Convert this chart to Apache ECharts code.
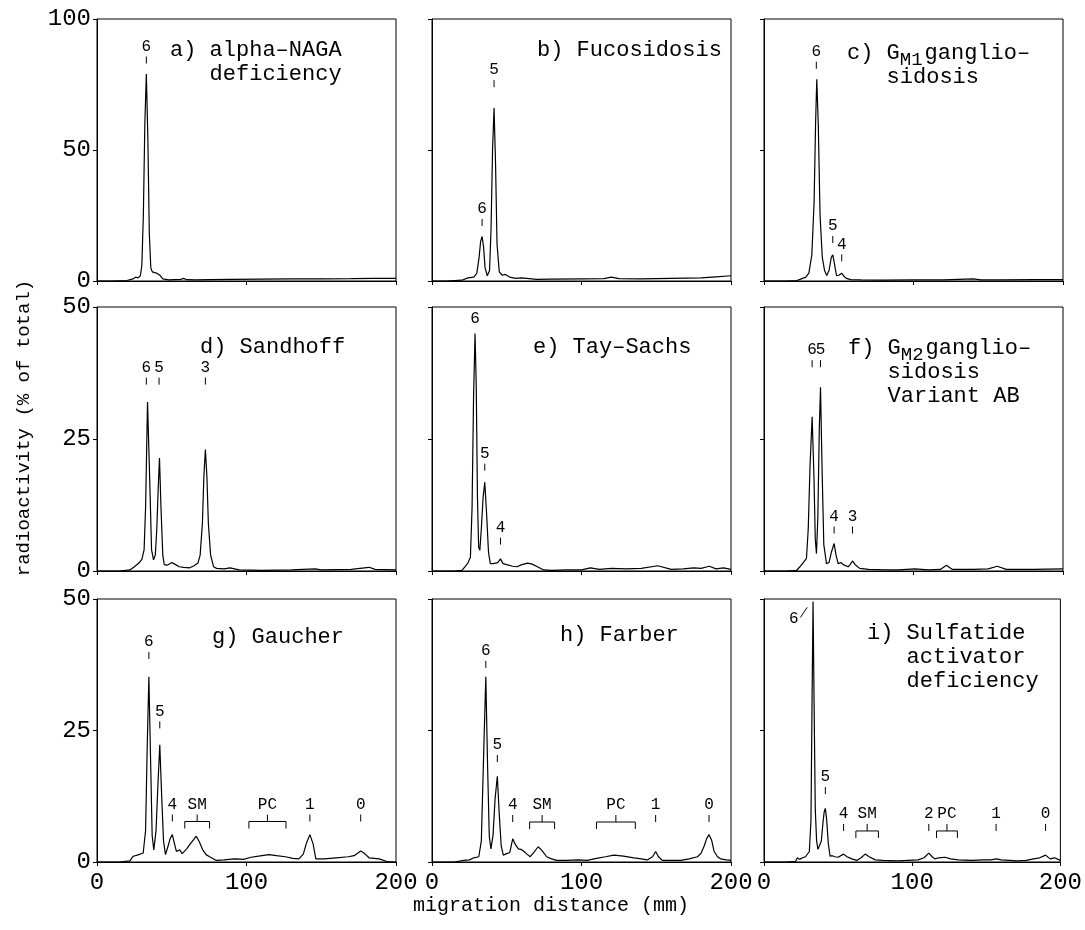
<!DOCTYPE html>
<html>
<head>
<meta charset="utf-8">
<script src="https://cdn.jsdelivr.net/npm/echarts@6/dist/echarts.min.js"></script>
<style>
html,body{margin:0;padding:0;background:#fff;}
#c{width:1085px;height:930px;}
</style>
</head>
<body>
<div id="c"></div>
<script>
// ---------- DATA ----------
const xTicks = [0, 100, 200];
const yTop = [100, 50, 50];           // y-axis max per row
const yInterval = [50, 25, 25];

// a) alpha-NAGA deficiency
const aX = [0,10,20,24,26,27.5,29,30,31,32,33,34,35,36,37,38.5,40,42,44,48,52,56,58,60,66,75,90,110,130,150,170,185,200];
const aY = [0,0,0.2,0.8,1.5,1.2,2,6,25,60,79,55,18,5,3.5,3.2,3,2.2,0.8,0.4,0.5,0.6,1.0,0.5,0.4,0.5,0.6,0.7,0.8,0.8,0.9,1.0,1.0];
// b) Fucosidosis
const bX = [0,10,20,24,28,30,31.5,32.5,33.5,34.5,35.5,37,38.5,39.5,40.5,41.5,42.5,43.5,45,47,49,52,56,60,70,80,100,115,120,125,140,160,180,190,200];
const bY = [0,0,0.3,1.2,1.5,3,9,15,17,13,5,2,4,20,50,66,45,14,3.5,2.2,2.5,1.5,1.0,1.2,0.6,0.7,0.8,0.9,1.5,0.9,0.8,1.0,1.2,1.6,2.0];
// c) GM1 gangliosidosis
const cX = [0,15,22,25,28,30,32,33.5,34.5,35.3,36.3,37.5,39,40.5,42,43.5,45,46,47,48.5,50,52,53.5,55,58,65,80,100,120,140,145,160,180,200];
const cY = [0,0,0.2,0.8,1.5,3,10,30,60,77,60,25,9,4,2.1,4,9,10,7,2,2.2,3,1.8,1.0,0.5,0.4,0.3,0.4,0.4,0.8,0.4,0.4,0.5,0.5];
// d) Sandhoff
const dX = [0,15,22,25,28,30,31.5,32.5,33.8,35,36.5,37.8,39,40,41,41.8,42.8,44,45,47,50,52,55,58,62,65,67.5,69,70.5,71.5,72.5,73.5,74.5,76,78,80,85,89,95,110,130,146,150,170,182,186,200];
const dY = [0,0,0.2,0.8,1.5,2.2,4,12,32,20,4,2.1,3,8,16,21.4,12,3,1.2,1.1,1.6,1.3,0.8,0.7,0.6,1.0,1.5,3,9,18,23,18,9,3,0.8,0.5,0.4,0.6,0.2,0.1,0.2,0.4,0.2,0.3,0.7,0.3,0.2];
// e) Tay-Sachs
const eX = [0,15,20,22,24,25.7,26.8,27.8,28.8,29.6,30.4,31.2,32,33,34.2,35.3,36.5,37.8,39,41,42.5,44,45.8,47.5,50,54,57,60,64,67,70.5,74.7,80,90,100,106,112,120,130,140,151,160,168,175,180,185.5,190,195,200];
const eY = [0,0,0.1,0.8,1.5,2.6,12,33,45,35,14,4.5,3.9,8,14,16.8,11,3.5,1.4,1.4,1.5,1.6,2.3,1.4,1.2,0.9,0.8,1.2,1.5,1.3,0.8,0.2,0.1,0.2,0.2,0.6,0.3,0.5,0.4,0.5,1.0,0.3,0.4,0.6,0.5,0.9,0.4,0.6,0.3];
// f) GM2 gangliosidosis variant AB
const fX = [0,15,21.7,24,26,28.4,29.6,30.8,32.2,33.4,34.3,35.1,36,37,37.8,38.8,40,41.8,43.5,45,46.9,48.2,49.6,51.5,53,56.3,57.8,59.2,61,64,70,80,90,101,110,118,122,126,140,150,156,162,180,200];
const fY = [0,0,0.1,0.8,1.5,2.4,8,20,29.2,18,6,3.3,10,27,34.8,20,5,1.4,1.6,3.5,5.2,3,1.4,1.6,1.2,0.8,1.3,1.9,1.2,0.5,0.3,0.2,0.2,0.4,0.2,0.3,1.1,0.3,0.3,0.4,0.9,0.3,0.3,0.4];
// g) Gaucher
const gX = [0,15,22,24.2,27,30.9,32.5,33.6,34.7,35.8,36.9,38,39.5,40.8,42,43.2,44.5,45.8,47.5,49,50.4,51.8,53.1,55.3,57,58,60,62,64.5,66.4,68.5,70.9,73,75.3,79.8,85,92,98,103,108,115,120,126,131,135,138,140,142.4,144.5,146.4,152,160,168,172,176.4,179,182,188.7,194,200];
const gY = [0,0,0.2,1.1,1.3,1.7,6,22,35.2,20,5,2.3,6,15,22.3,13,4,1.4,3,4.5,5.2,3.5,2.0,2.3,1.6,1.4,2.5,3.3,4.2,4.9,3.8,2.2,1.4,1.0,0.3,0.4,0.6,0.5,0.9,1.1,1.4,1.2,1.0,0.7,0.6,1.5,3.5,5.2,3.5,0.6,0.6,0.8,1.0,1.2,2.1,1.6,0.8,0.6,0.1,0];
// h) Farber
const hX = [0,15,21.2,25,28,31.3,33,34.5,36,37.2,38.3,39.4,40.8,42.2,43.7,45,46.3,47.7,50,52,54,55.8,57.8,59.5,61.2,63.5,65.7,68,71,73.5,76.7,80,83.4,90,98,103.8,110,116,121.7,128,135,140,144,147.5,149.6,151.5,154,160,166.4,172,177.6,180,182,183.8,185.3,187,188.7,191,193,197,200];
const hY = [0,0,0.3,0.4,0.8,1.0,4,20,35.2,18,5,2.5,5,12,16.3,9,3,1.3,1.6,1.8,4.4,3.3,2.5,2.4,2.1,1.5,1.0,1.8,2.9,2.2,1.0,0.6,0.3,0.3,0.4,0.3,0.7,1.0,1.3,1.1,0.8,0.6,0.4,1.0,2.0,1.0,0.3,0.3,0.3,0.6,1.0,1.7,3.0,4.5,5.2,4.2,2.0,1.0,0.6,0.4,0.3];
// i) Sulfatide activator deficiency
const iX = [0,15,21.3,22.5,24,26,28,30.6,31.7,32.4,33.1,33.8,34.6,35.5,36.4,37.5,38.7,39.8,40.6,41.4,42.3,43.4,44.6,46,47.9,50,53.7,56,59.3,62.6,65.5,68.3,71,75,80,90,97,104,108,111.2,113.5,115.2,118,122,126,131,140,148,153,157,160,171,177,182,186,190,193,196,200];
const iY = [0,0,0.1,0.8,0.5,0.8,1.0,2.0,8,30,49.5,30,10,4,2.4,2.6,4,7.5,9.5,10.2,8,3.5,1.1,1.2,1.0,0.9,1.5,1.0,0.6,0.3,0.8,1.5,1.0,0.4,0.3,0.2,0.3,0.4,0.8,1.7,1.0,0.6,0.8,0.9,0.6,0.4,0.3,0.4,0.4,0.6,0.4,0.2,0.3,0.6,0.8,1.3,0.6,0.8,0.3];

// peak labels: [x, y (bottom of mark), text, hasTick]
const aPeaks = [[33, 83, '6', 1]];
const bPeaks = [[33.5, 21, '6', 1], [41.5, 74, '5', 1]];
const cPeaks = [[35, 81, '6', 1], [46, 14.5, '5', 1], [52, 7.5, '4', 1]];
const dPeaks = [[33, 35.3, '6', 1], [41.5, 35.3, '5', 1], [72.5, 35.3, '3', 1]];
const ePeaks = [[28.8, 46, '6', 0], [35.3, 19, '5', 1], [45.8, 5, '4', 1]];
const fPeaks = [[32.2, 38.6, '6', 1], [37.8, 38.6, '5', 1], [46.9, 7.1, '4', 1], [59.2, 7.1, '3', 1]];
const gPeaks = [[34.7, 38.6, '6', 1], [42, 25.4, '5', 1], [50.4, 7.7, '4', 1], [142.4, 7.7, '1', 1], [176.4, 7.7, '0', 1]];
const hPeaks = [[36, 36.9, '6', 1], [43.7, 19, '5', 1], [54, 7.6, '4', 1], [149.6, 7.6, '1', 1], [185.3, 7.6, '0', 1]];
const iPeaks = [[20.1, 44.6, '6', 0], [41.4, 12.9, '5', 1], [53.7, 5.9, '4', 1], [111.2, 5.9, '2', 1], [156.6, 5.9, '1', 1], [190, 5.9, '0', 1]];
// brackets: [x start, x end, y, text]
const gBrackets = [[58.7, 75.3, 7.7, 'SM'], [101.6, 126.4, 7.7, 'PC']];
const hBrackets = [[65.3, 82, 7.6, 'SM'], [110, 136, 7.6, 'PC']];
const iBrackets = [[62, 77.2, 5.9, 'SM'], [116.4, 130.5, 5.9, 'PC']];
const iLeader = [[24.6, 46.5], [29.1, 48.4]];

const panelTitles = [
  '{n|a) alpha\u2013NAGA}\n{n|   deficiency}',
  '{n|b) Fucosidosis}',
  '{n|c) G}{s|M1}{n|ganglio\u2013}\n{n|   sidosis}',
  '{n|d) Sandhoff}',
  '{n|e) Tay\u2013Sachs}',
  '{n|f) G}{s|M2}{n|ganglio\u2013}\n{n|   sidosis}\n{n|   Variant AB}',
  '{n|g) Gaucher}',
  '{n|h) Farber}',
  '{n|i) Sulfatide}\n{n|   activator}\n{n|   deficiency}'
];
const yAxisTitle = 'radioactivity (% of total)';
const xAxisTitle = 'migration distance (mm)';

// ---------- LAYOUT ----------
const FONT = '"Liberation Mono", "Courier New", monospace';
const colLeft = [97, 432, 764];
const colW = 299;
const rowTop = [19, 307, 599];
const rowH = [262, 264, 263];
const titlePos = [[170, 38], [537, 38], [847, 38], [200, 335], [533, 335], [848, 333], [212, 625], [560, 623], [867, 621]];

const curves = [[aX,aY],[bX,bY],[cX,cY],[dX,dY],[eX,eY],[fX,fY],[gX,gY],[hX,hY],[iX,iY]];
const peaks = [aPeaks,bPeaks,cPeaks,dPeaks,ePeaks,fPeaks,gPeaks,hPeaks,iPeaks];
const brackets = [[],[],[],[],[],[],gBrackets,hBrackets,iBrackets];

const grids = [], xAxes = [], yAxes = [], series = [];
for (let k = 0; k < 9; k++) {
  const r = Math.floor(k / 3), c = k % 3;
  grids.push({left: colLeft[c], top: rowTop[r], width: colW, height: rowH[r],
    show: true, borderColor: '#000', borderWidth: 1, backgroundColor: 'transparent', containLabel: false});
  xAxes.push({type: 'value', gridIndex: k, min: xTicks[0], max: xTicks[2], interval: 100,
    axisLine: {lineStyle: {color: '#000', width: 1}},
    axisTick: {show: true, inside: false, length: 4, lineStyle: {color: '#000'}},
    axisLabel: {show: r === 2, fontFamily: FONT, fontSize: 24, color: '#000', margin: 9,
      showMinLabel: true, showMaxLabel: true},
    splitLine: {show: false}});
  yAxes.push({type: 'value', gridIndex: k, min: 0, max: yTop[r], interval: yInterval[r],
    axisLine: {lineStyle: {color: '#000', width: 1}},
    axisTick: {show: true, inside: false, length: 4, lineStyle: {color: '#000'}},
    axisLabel: {show: c === 0, fontFamily: FONT, fontSize: 24, color: '#000', margin: 6,
      showMinLabel: true, showMaxLabel: true},
    splitLine: {show: false}});
  const [xs, ys] = curves[k];
  series.push({type: 'line', xAxisIndex: k, yAxisIndex: k, showSymbol: false, silent: true,
    data: xs.map((x, i) => [x, ys[i]]),
    lineStyle: {color: '#000', width: 1.2}, animation: false});
  const pk = peaks[k];
  series.push({type: 'custom', xAxisIndex: k, yAxisIndex: k, silent: true, clip: false, animation: false,
    data: pk.map(d => [d[0], d[1]]),
    renderItem: function (params, api) {
      const d = pk[params.dataIndex];
      const p = api.coord([d[0], d[1]]);
      const ch = [];
      let top = p[1] - 1;
      if (d[3]) {
        ch.push({type: 'line', shape: {x1: p[0], y1: p[1], x2: p[0], y2: p[1] - 7}, style: {stroke: '#000', lineWidth: 1}});
        top = p[1] - 9;
      }
      ch.push({type: 'text', style: {text: d[2], x: p[0], y: top, align: 'center', verticalAlign: 'bottom',
        font: '16px ' + FONT, fill: '#000'}});
      return {type: 'group', children: ch};
    }});
  const br = brackets[k];
  if (br.length) {
    series.push({type: 'custom', xAxisIndex: k, yAxisIndex: k, silent: true, clip: false, animation: false,
      data: br.map(d => [d[0], d[2]]),
      renderItem: function (params, api) {
        const d = br[params.dataIndex];
        const p1 = api.coord([d[0], d[2]]);
        const p2 = api.coord([d[1], d[2]]);
        const m = (p1[0] + p2[0]) / 2, y = p1[1];
        return {type: 'group', children: [
          {type: 'polyline', shape: {points: [[p1[0], y + 7], [p1[0], y], [p2[0], y], [p2[0], y + 7]]}, style: {stroke: '#000', lineWidth: 1, fill: null}},
          {type: 'line', shape: {x1: m, y1: y, x2: m, y2: y - 7}, style: {stroke: '#000', lineWidth: 1}},
          {type: 'text', style: {text: d[3], x: m, y: y - 9, align: 'center', verticalAlign: 'bottom', font: '16px ' + FONT, fill: '#000'}}
        ]};
      }});
  }
}
series.push({type: 'line', xAxisIndex: 8, yAxisIndex: 8, showSymbol: false, silent: true, animation: false,
  data: iLeader, lineStyle: {color: '#000', width: 1}});

const graphics = panelTitles.map((t, k) => ({
  type: 'text', left: titlePos[k][0], top: titlePos[k][1], silent: true,
  style: {text: t, font: '22px ' + FONT, fill: '#000', lineHeight: 24,
    rich: {n: {fontFamily: FONT, fontSize: 22, lineHeight: 24, fill: '#000'},
           s: {fontFamily: FONT, fontSize: 19, lineHeight: 24, padding: [12, 2, 0, 0], fill: '#000'}}}
}));
graphics.push({type: 'text', x: 24, y: 428, rotation: Math.PI / 2, silent: true,
  style: {text: yAxisTitle, font: '19px ' + FONT, fill: '#000', align: 'center', verticalAlign: 'middle'}});
graphics.push({type: 'text', x: 551, y: 906, silent: true,
  style: {text: xAxisTitle, font: '20px ' + FONT, fill: '#000', align: 'center', verticalAlign: 'middle'}});

const chart = echarts.init(document.getElementById('c'), null, {renderer: 'canvas'});
chart.setOption({
  animation: false,
  backgroundColor: '#fff',
  grid: grids, xAxis: xAxes, yAxis: yAxes, series: series, graphic: graphics
});
</script>
</body>
</html>
